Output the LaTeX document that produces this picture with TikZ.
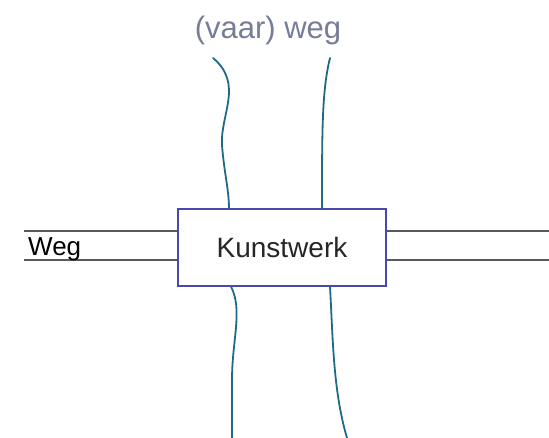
\documentclass[tikz,border=0pt]{standalone}
\usepackage{fontspec}
\setmainfont{Liberation Sans}
\usetikzlibrary{positioning, calc}
\definecolor{roadgray}{HTML}{5a5a5a}
\definecolor{watercol}{HTML}{1f6a86}
\definecolor{boxblue}{HTML}{4a48b0}
\definecolor{labelgray}{HTML}{777c98}
\tikzset{
  road/.style={draw=roadgray, line width=1.6},
  water/.style={draw=watercol, line width=1.8, line cap=round},
  structure/.style={draw=boxblue, line width=1.2, fill=white, minimum width=208, minimum height=77, inner sep=0},
  every node/.style={inner sep=0}
}
\begin{document}
\begin{tikzpicture}[x=1pt, y=-1pt]
    \useasboundingbox (0,0) rectangle (549,438);
    \node[font=\fontsize{31}{34}\selectfont, text=labelgray] (vaarweg) at (268,30) {(vaar) weg};
    \coordinate (lefttop) at (24,231);
    \coordinate (leftbot) at (24,260);
    \coordinate (righttop) at (549,231);
    \coordinate (rightbot) at (549,260);
    \coordinate (waterla) at (213,58);
    \coordinate (waterra) at (330,58);
    \coordinate (waterlb) at (232,438);
    \coordinate (waterrb) at (347,438);
    % roads left and right of the structure
    \node[structure] (kunstwerk) at (282,247.5) {};
    \draw[road] (lefttop) -- (lefttop -| kunstwerk.west);
    \draw[road] (leftbot) -- (leftbot -| kunstwerk.west);
    \draw[road] (righttop) -- (righttop -| kunstwerk.east);
    \draw[road] (rightbot) -- (rightbot -| kunstwerk.east);
    \node[font=\fontsize{26}{28}\selectfont, anchor=base west] (weg) at (28,256) {Weg};
    % waterways crossing under
    \draw[water] (waterla) .. controls (244,84) and (220,115) .. (222,145)
      .. controls (224,172) and (229,190) .. ($(waterla |- kunstwerk.north)+(16,0)$);
    \draw[water] (waterra) .. controls (322,90) and (322,130) .. ($(waterra |- kunstwerk.north)+(-8,0)$);
    \draw[water] ($(waterlb |- kunstwerk.south)+(-1,0)$) .. controls (243,310) and (232,340) .. (232,380) -- (waterlb);
    \draw[water] ($(waterra |- kunstwerk.south)$) .. controls (333,340) and (333,390) .. (waterrb);
    \node[font=\fontsize{28}{30}\selectfont, text=black!85] (kunstwerklabel) at (kunstwerk) {Kunstwerk};
\end{tikzpicture}
\end{document}
